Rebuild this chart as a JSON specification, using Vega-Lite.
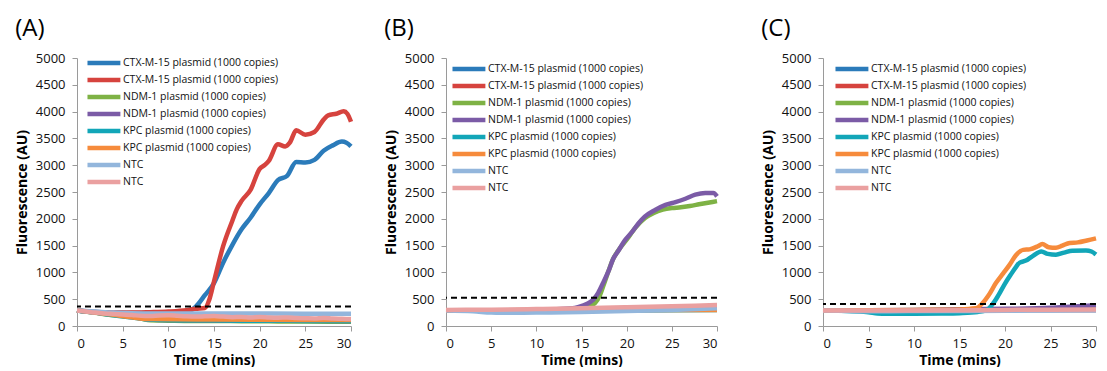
{
  "$schema": "https://vega.github.io/schema/vega-lite/v6.json",
  "padding": {"left": 15, "top": 17, "right": 0, "bottom": 0},
  "datasets": {
    "A": [
      {"s":"CTX1","t":0,"v":290},{"s":"CTX1","t":1,"v":275},{"s":"CTX1","t":2,"v":262},{"s":"CTX1","t":3,"v":255},{"s":"CTX1","t":4,"v":248},{"s":"CTX1","t":5,"v":245},{"s":"CTX1","t":6,"v":243},{"s":"CTX1","t":7,"v":242},{"s":"CTX1","t":8,"v":243},{"s":"CTX1","t":9,"v":246},{"s":"CTX1","t":10,"v":250},{"s":"CTX1","t":11,"v":255},{"s":"CTX1","t":12,"v":272},{"s":"CTX1","t":12.5,"v":300},{"s":"CTX1","t":13,"v":360},{"s":"CTX1","t":14,"v":574},{"s":"CTX1","t":15,"v":800},{"s":"CTX1","t":16,"v":1180},{"s":"CTX1","t":17,"v":1510},{"s":"CTX1","t":18,"v":1800},{"s":"CTX1","t":19,"v":2020},{"s":"CTX1","t":20,"v":2270},{"s":"CTX1","t":21,"v":2480},{"s":"CTX1","t":22,"v":2720},{"s":"CTX1","t":23,"v":2800},{"s":"CTX1","t":24,"v":3060},{"s":"CTX1","t":25,"v":3050},{"s":"CTX1","t":26,"v":3100},{"s":"CTX1","t":27,"v":3270},{"s":"CTX1","t":28,"v":3370},{"s":"CTX1","t":29,"v":3440},{"s":"CTX1","t":29.5,"v":3420},{"s":"CTX1","t":30,"v":3350},
      {"s":"CTX2","t":0,"v":290},{"s":"CTX2","t":2,"v":262},{"s":"CTX2","t":4,"v":250},{"s":"CTX2","t":6,"v":250},{"s":"CTX2","t":8,"v":258},{"s":"CTX2","t":10,"v":270},{"s":"CTX2","t":12,"v":295},{"s":"CTX2","t":13,"v":320},{"s":"CTX2","t":14,"v":335},{"s":"CTX2","t":14.5,"v":500},{"s":"CTX2","t":15,"v":830},{"s":"CTX2","t":16,"v":1490},{"s":"CTX2","t":17,"v":1960},{"s":"CTX2","t":17.5,"v":2180},{"s":"CTX2","t":18,"v":2330},{"s":"CTX2","t":19,"v":2540},{"s":"CTX2","t":20,"v":2930},{"s":"CTX2","t":20.6,"v":3010},{"s":"CTX2","t":21,"v":3080},{"s":"CTX2","t":22,"v":3390},{"s":"CTX2","t":22.8,"v":3350},{"s":"CTX2","t":23.3,"v":3420},{"s":"CTX2","t":24,"v":3650},{"s":"CTX2","t":25,"v":3570},{"s":"CTX2","t":26,"v":3620},{"s":"CTX2","t":27,"v":3850},{"s":"CTX2","t":27.5,"v":3930},{"s":"CTX2","t":28.4,"v":3960},{"s":"CTX2","t":29.2,"v":4005},{"s":"CTX2","t":29.6,"v":3960},{"s":"CTX2","t":30,"v":3810},
      {"s":"NDM1","t":0,"v":290},{"s":"NDM1","t":2,"v":245},{"s":"NDM1","t":4,"v":200},{"s":"NDM1","t":6,"v":170},{"s":"NDM1","t":7,"v":140},{"s":"NDM1","t":8,"v":105},{"s":"NDM1","t":10,"v":100},{"s":"NDM1","t":12,"v":95},{"s":"NDM1","t":15,"v":95},{"s":"NDM1","t":18,"v":90},{"s":"NDM1","t":20,"v":88},{"s":"NDM1","t":22,"v":85},{"s":"NDM1","t":25,"v":82},{"s":"NDM1","t":28,"v":80},{"s":"NDM1","t":30,"v":78},
      {"s":"NDM2","t":0,"v":290},{"s":"NDM2","t":3,"v":230},{"s":"NDM2","t":6,"v":170},{"s":"NDM2","t":8,"v":120},{"s":"NDM2","t":10,"v":110},{"s":"NDM2","t":15,"v":105},{"s":"NDM2","t":20,"v":100},{"s":"NDM2","t":25,"v":98},{"s":"NDM2","t":30,"v":95},
      {"s":"KPC1","t":0,"v":290},{"s":"KPC1","t":2,"v":250},{"s":"KPC1","t":4,"v":200},{"s":"KPC1","t":6,"v":160},{"s":"KPC1","t":8,"v":120},{"s":"KPC1","t":10,"v":110},{"s":"KPC1","t":12,"v":105},{"s":"KPC1","t":15,"v":105},{"s":"KPC1","t":18,"v":100},{"s":"KPC1","t":20,"v":100},{"s":"KPC1","t":25,"v":95},{"s":"KPC1","t":30,"v":92},
      {"s":"KPC2","t":0,"v":290},{"s":"KPC2","t":4,"v":210},{"s":"KPC2","t":8,"v":130},{"s":"KPC2","t":15,"v":120},{"s":"KPC2","t":30,"v":110},
      {"s":"NTC1","t":0,"v":290},{"s":"NTC1","t":2,"v":270},{"s":"NTC1","t":4,"v":250},{"s":"NTC1","t":6,"v":240},{"s":"NTC1","t":8,"v":235},{"s":"NTC1","t":10,"v":235},{"s":"NTC1","t":15,"v":235},{"s":"NTC1","t":20,"v":232},{"s":"NTC1","t":25,"v":230},{"s":"NTC1","t":30,"v":230},
      {"s":"NTC2","t":0,"v":290},{"s":"NTC2","t":1,"v":270},{"s":"NTC2","t":2,"v":250},{"s":"NTC2","t":3,"v":235},{"s":"NTC2","t":4,"v":225},{"s":"NTC2","t":5,"v":215},{"s":"NTC2","t":6,"v":205},{"s":"NTC2","t":7,"v":190},{"s":"NTC2","t":8,"v":185},{"s":"NTC2","t":9,"v":195},{"s":"NTC2","t":10,"v":200},{"s":"NTC2","t":11,"v":190},{"s":"NTC2","t":12,"v":180},{"s":"NTC2","t":13,"v":175},{"s":"NTC2","t":14,"v":180},{"s":"NTC2","t":15,"v":185},{"s":"NTC2","t":16,"v":175},{"s":"NTC2","t":17,"v":165},{"s":"NTC2","t":18,"v":170},{"s":"NTC2","t":19,"v":160},{"s":"NTC2","t":20,"v":170},{"s":"NTC2","t":21,"v":160},{"s":"NTC2","t":22,"v":155},{"s":"NTC2","t":23,"v":160},{"s":"NTC2","t":24,"v":150},{"s":"NTC2","t":25,"v":145},{"s":"NTC2","t":26,"v":140},{"s":"NTC2","t":27,"v":150},{"s":"NTC2","t":28,"v":140},{"s":"NTC2","t":29,"v":135},{"s":"NTC2","t":30,"v":130}
    ],
    "B": [
      {"s":"CTX1","t":0,"v":290},{"s":"CTX1","t":10,"v":290},{"s":"CTX1","t":20,"v":300},{"s":"CTX1","t":30,"v":310},
      {"s":"CTX2","t":0,"v":290},{"s":"CTX2","t":15,"v":300},{"s":"CTX2","t":30,"v":320},
      {"s":"NDM1","t":0,"v":290},{"s":"NDM1","t":5,"v":292},{"s":"NDM1","t":10,"v":300},{"s":"NDM1","t":14,"v":315},{"s":"NDM1","t":15,"v":330},{"s":"NDM1","t":16,"v":380},{"s":"NDM1","t":16.5,"v":430},{"s":"NDM1","t":17,"v":560},{"s":"NDM1","t":17.5,"v":790},{"s":"NDM1","t":18,"v":1030},{"s":"NDM1","t":18.5,"v":1250},{"s":"NDM1","t":19,"v":1390},{"s":"NDM1","t":20,"v":1610},{"s":"NDM1","t":21,"v":1840},{"s":"NDM1","t":22,"v":2010},{"s":"NDM1","t":23,"v":2110},{"s":"NDM1","t":24,"v":2170},{"s":"NDM1","t":25,"v":2200},{"s":"NDM1","t":26,"v":2215},{"s":"NDM1","t":27,"v":2240},{"s":"NDM1","t":28,"v":2270},{"s":"NDM1","t":29,"v":2300},{"s":"NDM1","t":30,"v":2330},
      {"s":"NDM2","t":0,"v":290},{"s":"NDM2","t":5,"v":292},{"s":"NDM2","t":10,"v":300},{"s":"NDM2","t":14,"v":330},{"s":"NDM2","t":14.6,"v":350},{"s":"NDM2","t":15.7,"v":420},{"s":"NDM2","t":16.3,"v":492},{"s":"NDM2","t":16.85,"v":619},{"s":"NDM2","t":17.4,"v":808},{"s":"NDM2","t":18,"v":1029},{"s":"NDM2","t":18.5,"v":1250},{"s":"NDM2","t":19.1,"v":1408},{"s":"NDM2","t":19.8,"v":1597},{"s":"NDM2","t":20.6,"v":1755},{"s":"NDM2","t":21.3,"v":1913},{"s":"NDM2","t":22,"v":2039},{"s":"NDM2","t":23.15,"v":2165},{"s":"NDM2","t":24.3,"v":2260},{"s":"NDM2","t":25.4,"v":2311},{"s":"NDM2","t":26.5,"v":2374},{"s":"NDM2","t":27.6,"v":2450},{"s":"NDM2","t":28.7,"v":2481},{"s":"NDM2","t":29.6,"v":2481},{"s":"NDM2","t":30,"v":2418},
      {"s":"KPC1","t":0,"v":290},{"s":"KPC1","t":15,"v":290},{"s":"KPC1","t":30,"v":300},
      {"s":"KPC2","t":0,"v":290},{"s":"KPC2","t":30,"v":300},
      {"s":"NTC1","t":0,"v":290},{"s":"NTC1","t":3,"v":275},{"s":"NTC1","t":5,"v":250},{"s":"NTC1","t":6,"v":245},{"s":"NTC1","t":10,"v":250},{"s":"NTC1","t":15,"v":260},{"s":"NTC1","t":20,"v":280},{"s":"NTC1","t":25,"v":300},{"s":"NTC1","t":30,"v":330},
      {"s":"NTC2","t":0,"v":300},{"s":"NTC2","t":5,"v":305},{"s":"NTC2","t":10,"v":315},{"s":"NTC2","t":15,"v":330},{"s":"NTC2","t":20,"v":350},{"s":"NTC2","t":25,"v":370},{"s":"NTC2","t":30,"v":390}
    ],
    "C": [
      {"s":"CTX1","t":0,"v":290},{"s":"CTX1","t":30,"v":300},
      {"s":"CTX2","t":0,"v":290},{"s":"CTX2","t":30,"v":300},
      {"s":"NDM1","t":0,"v":290},{"s":"NDM1","t":15,"v":300},{"s":"NDM1","t":30,"v":320},
      {"s":"NDM2","t":0,"v":290},{"s":"NDM2","t":10,"v":300},{"s":"NDM2","t":20,"v":320},{"s":"NDM2","t":25,"v":340},{"s":"NDM2","t":28,"v":370},{"s":"NDM2","t":30,"v":385},
      {"s":"KPC1","t":0,"v":290},{"s":"KPC1","t":2,"v":285},{"s":"KPC1","t":4,"v":270},{"s":"KPC1","t":5,"v":255},{"s":"KPC1","t":6,"v":235},{"s":"KPC1","t":7,"v":228},{"s":"KPC1","t":10,"v":228},{"s":"KPC1","t":13,"v":232},{"s":"KPC1","t":15,"v":240},{"s":"KPC1","t":17,"v":262},{"s":"KPC1","t":18,"v":300},{"s":"KPC1","t":18.6,"v":398},{"s":"KPC1","t":19.3,"v":580},{"s":"KPC1","t":20,"v":790},{"s":"KPC1","t":20.6,"v":950},{"s":"KPC1","t":21.2,"v":1100},{"s":"KPC1","t":21.6,"v":1180},{"s":"KPC1","t":22.3,"v":1220},{"s":"KPC1","t":23,"v":1300},{"s":"KPC1","t":24,"v":1392},{"s":"KPC1","t":24.7,"v":1345},{"s":"KPC1","t":25.6,"v":1330},{"s":"KPC1","t":26.5,"v":1370},{"s":"KPC1","t":27.4,"v":1405},{"s":"KPC1","t":28.9,"v":1410},{"s":"KPC1","t":29.5,"v":1390},{"s":"KPC1","t":30,"v":1335},
      {"s":"KPC2","t":0,"v":290},{"s":"KPC2","t":10,"v":300},{"s":"KPC2","t":15,"v":310},{"s":"KPC2","t":16.8,"v":330},{"s":"KPC2","t":17.5,"v":420},{"s":"KPC2","t":18.2,"v":574},{"s":"KPC2","t":19,"v":800},{"s":"KPC2","t":19.8,"v":981},{"s":"KPC2","t":20.5,"v":1140},{"s":"KPC2","t":21.2,"v":1320},{"s":"KPC2","t":22,"v":1420},{"s":"KPC2","t":22.7,"v":1430},{"s":"KPC2","t":23.6,"v":1487},{"s":"KPC2","t":24.1,"v":1530},{"s":"KPC2","t":24.8,"v":1470},{"s":"KPC2","t":25.6,"v":1460},{"s":"KPC2","t":26.3,"v":1500},{"s":"KPC2","t":27.1,"v":1550},{"s":"KPC2","t":28,"v":1560},{"s":"KPC2","t":29,"v":1595},{"s":"KPC2","t":30,"v":1635},
      {"s":"NTC1","t":0,"v":290},{"s":"NTC1","t":5,"v":275},{"s":"NTC1","t":10,"v":280},{"s":"NTC1","t":15,"v":280},{"s":"NTC1","t":20,"v":285},{"s":"NTC1","t":25,"v":290},{"s":"NTC1","t":30,"v":295},
      {"s":"NTC2","t":0,"v":290},{"s":"NTC2","t":10,"v":290},{"s":"NTC2","t":20,"v":300},{"s":"NTC2","t":30,"v":310}
    ],
    "thr": [{"p":"A","y":365},{"p":"B","y":525},{"p":"C","y":410}]
  },
  "hconcat": [
    {
      "hconcat": [
        {
          "width": 274, "height": 268,
          "title": {"text": "(A)", "anchor": "start", "frame": "bounds", "offset": 11},
          "layer": [
            {"data": {"name": "A"},
             "mark": {"type": "line", "strokeWidth": 4.5, "interpolate": "monotone", "strokeJoin": "round"},
             "encoding": {
               "x": {"field": "t", "type": "quantitative", "scale": {"domain": [0, 30]}, "axis": {"values": [0,5,10,15,20,25,30], "title": "Time (mins)"}},
               "y": {"field": "v", "type": "quantitative", "scale": {"domain": [0, 5000]}, "axis": {"values": [0,500,1000,1500,2000,2500,3000,3500,4000,4500,5000], "title": "Fluorescence (AU)"}},
               "color": {"field": "s", "type": "nominal",
                 "scale": {"domain": ["CTX1","CTX2","NDM1","NDM2","KPC1","KPC2","NTC1","NTC2"], "range": ["#2B7BBA","#D6433E","#7EB245","#7B5BA6","#12A6B8","#F68B3C","#93B6DC","#EAA0A0"]},
                 "legend": {"title": null, "orient": "none", "legendX": 32, "legendY": -2, "labelExpr": "{'CTX1':'CTX-M-15 plasmid (1000 copies)','CTX2':'CTX-M-15 plasmid (1000 copies)','NDM1':'NDM-1 plasmid (1000 copies)','NDM2':'NDM-1 plasmid (1000 copies)','KPC1':'KPC plasmid (1000 copies)','KPC2':'KPC plasmid (1000 copies)','NTC1':'NTC','NTC2':'NTC'}[datum.label]"}}
             }},
            {"data": {"name": "thr"}, "transform": [{"filter": "datum.p == 'A'"}],
             "mark": {"type": "rule", "strokeDash": [6, 4], "strokeWidth": 2, "color": "#000000"},
             "encoding": {"y": {"field": "y", "type": "quantitative", "axis": {"values": [0,500,1000,1500,2000,2500,3000,3500,4000,4500,5000], "title": "Fluorescence (AU)"}}}}
          ]
        },
        {
          "width": 271, "height": 268,
          "title": {"text": "(B)", "anchor": "start", "frame": "bounds", "offset": 11},
          "layer": [
            {"data": {"name": "B"},
             "mark": {"type": "line", "strokeWidth": 4.5, "interpolate": "monotone", "strokeJoin": "round"},
             "encoding": {
               "x": {"field": "t", "type": "quantitative", "scale": {"domain": [0, 30]}, "axis": {"values": [0,5,10,15,20,25,30], "title": "Time (mins)"}},
               "y": {"field": "v", "type": "quantitative", "scale": {"domain": [0, 5000]}, "axis": {"values": [0,500,1000,1500,2000,2500,3000,3500,4000,4500,5000], "title": "Fluorescence (AU)"}},
               "color": {"field": "s", "type": "nominal",
                 "scale": {"domain": ["CTX1","CTX2","NDM1","NDM2","KPC1","KPC2","NTC1","NTC2"], "range": ["#2B7BBA","#D6433E","#7EB245","#7B5BA6","#12A6B8","#F68B3C","#93B6DC","#EAA0A0"]},
                 "legend": {"title": null, "orient": "none", "legendX": 28, "legendY": 4, "labelExpr": "{'CTX1':'CTX-M-15 plasmid (1000 copies)','CTX2':'CTX-M-15 plasmid (1000 copies)','NDM1':'NDM-1 plasmid (1000 copies)','NDM2':'NDM-1 plasmid (1000 copies)','KPC1':'KPC plasmid (1000 copies)','KPC2':'KPC plasmid (1000 copies)','NTC1':'NTC','NTC2':'NTC'}[datum.label]"}}
             }},
            {"data": {"name": "thr"}, "transform": [{"filter": "datum.p == 'B'"}],
             "mark": {"type": "rule", "strokeDash": [6, 4], "strokeWidth": 2, "color": "#000000"},
             "encoding": {"y": {"field": "y", "type": "quantitative", "axis": {"values": [0,500,1000,1500,2000,2500,3000,3500,4000,4500,5000], "title": "Fluorescence (AU)"}}}}
          ]
        }
      ],
      "spacing": 30,
      "resolve": {"scale": {"color": "independent"}, "legend": {"color": "independent"}}
    },
    {
      "width": 273, "height": 268,
      "title": {"text": "(C)", "anchor": "start", "frame": "bounds", "offset": 11},
      "layer": [
        {"data": {"name": "C"},
         "mark": {"type": "line", "strokeWidth": 4.5, "interpolate": "monotone", "strokeJoin": "round"},
         "encoding": {
           "x": {"field": "t", "type": "quantitative", "scale": {"domain": [0, 30]}, "axis": {"values": [0,5,10,15,20,25,30], "title": "Time (mins)"}},
           "y": {"field": "v", "type": "quantitative", "scale": {"domain": [0, 5000]}, "axis": {"values": [0,500,1000,1500,2000,2500,3000,3500,4000,4500,5000], "title": "Fluorescence (AU)"}},
           "color": {"field": "s", "type": "nominal",
             "scale": {"domain": ["CTX1","CTX2","NDM1","NDM2","KPC1","KPC2","NTC1","NTC2"], "range": ["#2B7BBA","#D6433E","#7EB245","#7B5BA6","#12A6B8","#F68B3C","#93B6DC","#EAA0A0"]},
             "legend": {"title": null, "orient": "none", "legendX": 34, "legendY": 4, "labelExpr": "{'CTX1':'CTX-M-15 plasmid (1000 copies)','CTX2':'CTX-M-15 plasmid (1000 copies)','NDM1':'NDM-1 plasmid (1000 copies)','NDM2':'NDM-1 plasmid (1000 copies)','KPC1':'KPC plasmid (1000 copies)','KPC2':'KPC plasmid (1000 copies)','NTC1':'NTC','NTC2':'NTC'}[datum.label]"}}
         }},
        {"data": {"name": "thr"}, "transform": [{"filter": "datum.p == 'C'"}],
         "mark": {"type": "rule", "strokeDash": [6, 4], "strokeWidth": 2, "color": "#000000"},
         "encoding": {"y": {"field": "y", "type": "quantitative", "axis": {"values": [0,500,1000,1500,2000,2500,3000,3500,4000,4500,5000], "title": "Fluorescence (AU)"}}}}
      ]
    }
  ],
  "spacing": 41,
  "resolve": {"scale": {"color": "independent"}, "legend": {"color": "independent"}},
  "config": {
    "font": "Open Sans",
    "view": {"stroke": null},
    "title": {"font": "Open Sans", "fontSize": 24, "fontWeight": "normal", "color": "#000000"},
    "axis": {"grid": false, "domainColor": "#9A9A9A", "tickColor": "#9A9A9A", "tickSize": 5, "labelFont": "Open Sans", "labelFontSize": 13, "labelColor": "#111111", "labelOverlap": false, "format": "d", "titleFont": "Open Sans", "titleFontSize": 14, "titleFontWeight": "bold", "titleColor": "#000000"},
    "axisX": {"labelPadding": 6, "titlePadding": 3},
    "axisY": {"labelPadding": 7, "titlePadding": 6},
    "legend": {"padding": 0, "labelFont": "Open Sans", "labelFontSize": 10.5, "labelColor": "#111111", "symbolType": "M-6.5,0H1", "symbolSize": 77, "symbolStrokeWidth": 4.5, "labelOffset": 0, "rowPadding": -1}
  }
}
